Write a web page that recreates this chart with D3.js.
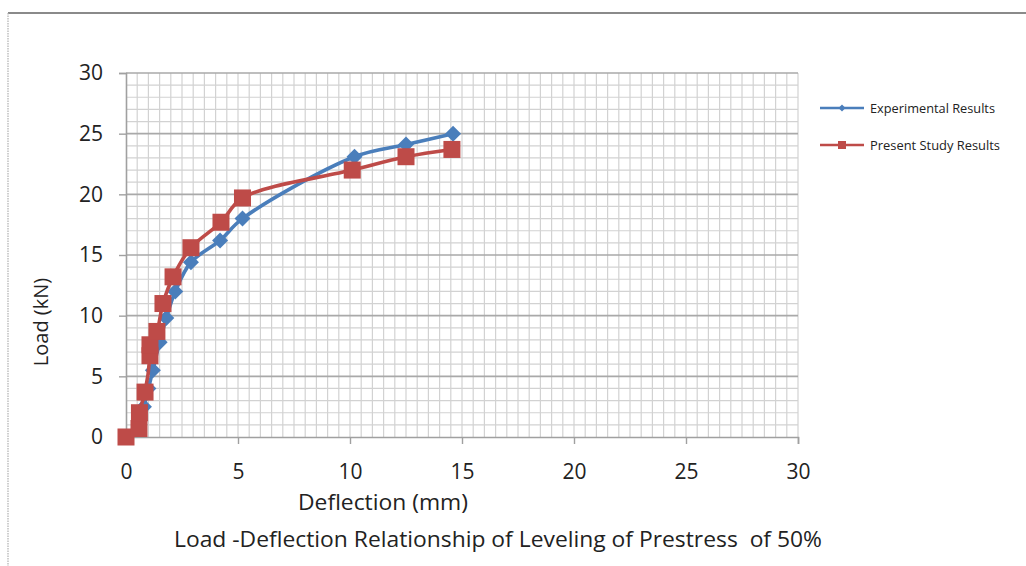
<!DOCTYPE html>
<html>
<head>
<meta charset="utf-8">
<script src="https://cdn.jsdelivr.net/npm/d3@7/dist/d3.min.js"></script>
<style>
  html, body { margin: 0; padding: 0; background: #fff; }
  svg { display: block; }
  text { font-family: "Open Sans", "DejaVu Sans", sans-serif; fill: #222; }
</style>
</head>
<body>
<script>
// Load–deflection data (deflection in mm, load in kN)
const expDeflection = [0, 0.6, 0.8, 1.0, 1.2, 1.5, 1.8, 2.2, 2.9, 4.2, 5.2, 10.2, 12.5, 14.6];
const expLoad       = [0, 1.0, 2.5, 4.0, 5.5, 7.8, 9.8, 12.0, 14.4, 16.2, 18.0, 23.1, 24.1, 25.0];

const psDeflection = [0, 0.58, 0.6, 0.85, 1.07, 1.07, 1.38, 1.65, 2.1, 2.9, 4.24, 5.2, 10.1, 12.5, 14.55];
const psLoad       = [0, 0.7, 2.0, 3.7, 6.7, 7.6, 8.7, 11.0, 13.2, 15.6, 17.7, 19.7, 22.0, 23.1, 23.7];

const xTicks = [0, 5, 10, 15, 20, 25, 30];
const yTicks = [0, 5, 10, 15, 20, 25, 30];

const seriesNames = ["Experimental Results", "Present Study Results"];
const seriesColors = ["#4a7ebb", "#be4b48"];

const W = 1026, H = 566;
const svg = d3.select("body").append("svg").attr("width", W).attr("height", H);

// outer frame (top and left edges)
svg.append("line").attr("x1", 8).attr("x2", W).attr("y1", 13).attr("y2", 13)
  .attr("stroke", "#8a8a8a").attr("stroke-width", 2.2);
svg.append("line").attr("x1", 8).attr("x2", 8).attr("y1", 13).attr("y2", H)
  .attr("stroke", "#b0b0b0").attr("stroke-width", 1.2).attr("stroke-dasharray", "1.5,1");

const x = d3.scaleLinear().domain([0, 30]).range([126, 798]);
const y = d3.scaleLinear().domain([0, 30]).range([437, 73]);

const grid = svg.append("g");
// minor vertical grid every 0.5 mm
d3.range(0.5, 30.01, 0.5).forEach(v => {
  grid.append("line").attr("x1", x(v)).attr("x2", x(v)).attr("y1", y(30)).attr("y2", y(0))
    .attr("stroke", "#d2d2d2").attr("stroke-width", 1.2);
});
// horizontal grid every 1 kN, darker at majors
d3.range(1, 30.01, 1).forEach(v => {
  const major = v % 5 === 0;
  grid.append("line").attr("x1", x(0)).attr("x2", x(30)).attr("y1", y(v)).attr("y2", y(v))
    .attr("stroke", major ? "#a9a9a9" : "#d2d2d2").attr("stroke-width", major ? 1.6 : 1.2);
});

// axes
const xAxis = d3.axisBottom(x).tickValues(xTicks).tickSize(7).tickPadding(20).tickFormat(d3.format("d"));
const gx = svg.append("g").attr("transform", `translate(0,${y(0)})`).call(xAxis);
gx.select(".domain").attr("stroke", "#a0a0a0").attr("stroke-width", 1.6);
gx.selectAll(".tick line").attr("stroke", "#a0a0a0").attr("stroke-width", 1.4);
gx.selectAll(".tick text").attr("font-size", 21).attr("fill", "#222")
  .attr("font-family", "'Open Sans', sans-serif");

const yAxis = d3.axisLeft(y).tickValues(yTicks).tickSize(7).tickPadding(16).tickFormat(d3.format("d"));
const gy = svg.append("g").attr("transform", `translate(${x(0)},0)`).call(yAxis);
gy.select(".domain").attr("stroke", "#a0a0a0").attr("stroke-width", 1.6);
gy.selectAll(".tick line").attr("stroke", "#a0a0a0").attr("stroke-width", 1.4);
gy.selectAll(".tick text").attr("font-size", 21).attr("fill", "#222")
  .attr("font-family", "'Open Sans', sans-serif");

// series
const expData = expDeflection.map((d, i) => [d, expLoad[i]]);
const psData = psDeflection.map((d, i) => [d, psLoad[i]]);

const line = d3.line().x(d => x(d[0])).y(d => y(d[1])).curve(d3.curveCatmullRom.alpha(0.5));

svg.append("path").datum(expData).attr("d", line)
  .attr("fill", "none").attr("stroke", seriesColors[0]).attr("stroke-width", 3.6);
svg.append("g").selectAll("path").data(expData).join("path")
  .attr("transform", d => `translate(${x(d[0])},${y(d[1])})`)
  .attr("d", "M0,-8L8,0L0,8L-8,0Z").attr("fill", seriesColors[0]);

svg.append("path").datum(psData).attr("d", line)
  .attr("fill", "none").attr("stroke", seriesColors[1]).attr("stroke-width", 3.6);
svg.append("g").selectAll("rect").data(psData).join("rect")
  .attr("x", d => x(d[0]) - 8.5).attr("y", d => y(d[1]) - 8.5)
  .attr("width", 17).attr("height", 17).attr("fill", seriesColors[1]);

// legend
const legend = svg.append("g");
seriesNames.forEach((name, i) => {
  const ly = 108 + i * 37;
  legend.append("line").attr("x1", 820).attr("x2", 864).attr("y1", ly).attr("y2", ly)
    .attr("stroke", seriesColors[i]).attr("stroke-width", 2.4);
  if (i === 0) {
    legend.append("path").attr("transform", `translate(842,${ly})`)
      .attr("d", "M0,-3.5L3.5,0L0,3.5L-3.5,0Z").attr("fill", seriesColors[i]);
  } else {
    legend.append("rect").attr("x", 838).attr("y", ly - 4).attr("width", 8).attr("height", 8)
      .attr("fill", seriesColors[i]);
  }
  legend.append("text").attr("x", 870).attr("y", ly + 4.5)
    .attr("font-size", 13).attr("textLength", i === 0 ? 125 : 130)
    .attr("lengthAdjust", "spacingAndGlyphs").text(name);
});

// axis titles
svg.append("text").attr("transform", "translate(48,322) rotate(-90)")
  .attr("text-anchor", "middle").attr("font-size", 20).text("Load (kN)");

svg.append("text").attr("x", 298).attr("y", 510)
  .attr("font-size", 21).attr("textLength", 170).attr("lengthAdjust", "spacingAndGlyphs")
  .text("Deflection (mm)");

svg.append("text").attr("x", 174).attr("y", 547)
  .attr("font-size", 21).attr("textLength", 648).attr("lengthAdjust", "spacingAndGlyphs")
  .attr("xml:space", "preserve").style("white-space", "pre")
  .text("Load -Deflection Relationship of Leveling of Prestress  of 50%");
</script>
</body>
</html>
